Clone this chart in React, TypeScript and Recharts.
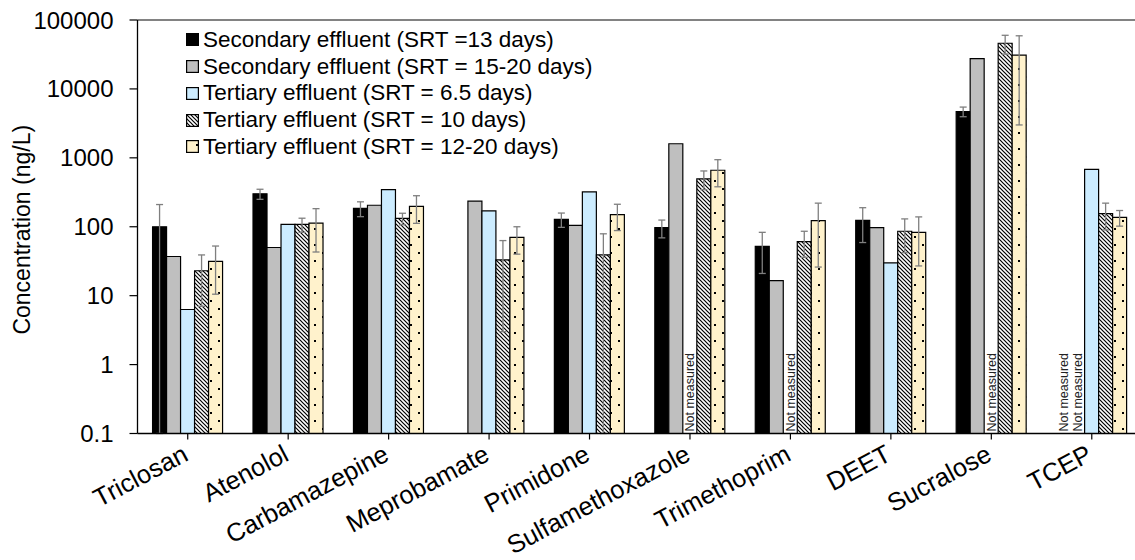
import React from 'react';
import { Bar, BarChart, ErrorBar, ReferenceLine, XAxis, YAxis } from 'recharts';

const categories = ['Triclosan', 'Atenolol', 'Carbamazepine', 'Meprobamate', 'Primidone', 'Sulfamethoxazole', 'Trimethoprim', 'DEET', 'Sucralose', 'TCEP'];

// concentrations (ng/L), null = no bar
const sec13 = [100, 300, 185, null, 128, 97, 52, 124, 4700, null];
const sec13Err = [110, 50, 45, null, 30, 28, 31, 65, 750, null];
const sec1520 = [37, 50, 205, 235, 105, 1600, 16.5, 97, 27500, null];
const ter65 = [6.3, 108, 345, 170, 320, null, null, 30, null, 680];
const ter10 = [23, 108, 132, 33, 39, 495, 61, 86, 46000, 155];
const ter10Err = [16, 25, 25, 30, 40, 150, 25, 44, 14000, 65];
const ter1220 = [31.5, 113, 197, 70, 150, 660, 123, 83, 31000, 137];
const ter1220Err = [21, 70, 85, 30, 62, 280, 97, 56, 28000, 35];

// where the bar is missing because it was not measured
const sec13Missing = ['TCEP'];
const sec1520Missing = ['TCEP'];
const ter65Missing = ['Sulfamethoxazole', 'Trimethoprim', 'Sucralose'];

const yTicks = [0.1, 1, 10, 100, 1000, 10000, 100000];

const FONT = '"Liberation Sans", Arial, sans-serif';
const CATEGORY_GAP = 0.15;

const seriesList = [
    { key: 'sec13', name: 'Secondary effluent (SRT =13 days)', values: sec13, errors: sec13Err, missing: sec13Missing, fill: '#000000' },
    { key: 'sec1520', name: 'Secondary effluent (SRT = 15-20 days)', values: sec1520, errors: null, missing: sec1520Missing, fill: '#BFBFBF' },
    { key: 'ter65', name: 'Tertiary effluent (SRT = 6.5 days)', values: ter65, errors: null, missing: ter65Missing, fill: '#CCECFF' },
    { key: 'ter10', name: 'Tertiary effluent (SRT = 10 days)', values: ter10, errors: ter10Err, missing: [], fill: 'url(#hatch)' },
    { key: 'ter1220', name: 'Tertiary effluent (SRT = 12-20 days)', values: ter1220, errors: ter1220Err, missing: [], fill: 'url(#dots)' },
];

const data = categories.map((name, i) => {
    const row: any = { name };
    seriesList.forEach(s => {
        const v = s.values[i];
        row[s.key] = v;
        const e = s.errors ? s.errors[i] : null;
        if (v != null && e != null) {
            // keep the lower end on the log axis
            row[s.key + 'Err'] = [Math.min(e, v - 0.1), e];
        }
    });
    return row;
});

// category label plus the "Not measured" notes standing in the empty bar slots
const CategoryTick = ({ x, y, payload }: any) => {
    const tx = x + 2;
    const ty = y + 18;
    const band = 2 * (payload.offset || 0);
    const barW = band * (1 - 2 * CATEGORY_GAP) / seriesList.length;
    const axisY = y - 8;
    return (
        <g>
            <text x={tx} y={ty} textAnchor="end" transform={`rotate(-28 ${tx} ${ty})`} fontSize={25.5} fontFamily={FONT} fill="#000">
                {payload.value}
            </text>
            {seriesList.map((s, slot) => {
                if (!s.missing.includes(payload.value)) return null;
                const cx = x + (slot - (seriesList.length - 1) / 2) * barW;
                const by = axisY - 2;
                return (
                    <text key={s.key} x={cx} y={by} dy="0.35em" transform={`rotate(-90 ${cx} ${by})`} fontSize={12.5} fontFamily={FONT} fill="#222">
                        Not measured
                    </text>
                );
            })}
        </g>
    );
};

const Legend = () => (
    <div style={{ position: 'absolute', left: 186, top: 26.5, fontFamily: FONT, fontSize: 22.5, color: '#000' }}>
        {seriesList.map(s => (
            <div key={s.key} style={{ display: 'flex', alignItems: 'center', height: 26.75, whiteSpace: 'nowrap' }}>
                <svg width={13} height={13} style={{ marginRight: 4, flexShrink: 0 }}>
                    <rect x={0.6} y={0.6} width={11.8} height={11.8} fill={s.fill} stroke="#000" strokeWidth={1.2} />
                </svg>
                <span>{s.name}</span>
            </div>
        ))}
    </div>
);

const App = () => {
    return (
        <div style={{ position: 'absolute', left: 0, top: 0, width: 1135, height: 560, overflow: 'hidden', background: '#fff' }}>
            <BarChart width={1150} height={560} data={data} margin={{ top: 20, right: 8, left: 0, bottom: 0 }}
                barCategoryGap={`${CATEGORY_GAP * 100}%`} barGap={0}>
                <defs>
                    <pattern id="hatch" patternUnits="userSpaceOnUse" width={4} height={4}>
                        <rect width={4} height={4} fill="#fff" />
                        <path d="M-1,-1 L5,5 M3,-1 L5,1 M-1,3 L1,5" stroke="#000" strokeWidth={1.2} />
                    </pattern>
                    <pattern id="dots" patternUnits="userSpaceOnUse" width={16} height={16}>
                        <rect width={16} height={16} fill="#FFF2CC" />
                        <rect x={10} y={4} width={2} height={2} fill="#000" />
                        <rect x={2} y={12} width={2} height={2} fill="#000" />
                    </pattern>
                </defs>
                <XAxis dataKey="name" type="category" height={126.5} interval={0} tick={<CategoryTick />}
                    tickSize={6} tickMargin={2} axisLine={{ stroke: '#000', strokeWidth: 1.3 }} tickLine={{ stroke: '#000', strokeWidth: 1.2 }} />
                <YAxis type="number" scale="log" domain={[0.1, 100000]} allowDataOverflow ticks={yTicks} width={137.5}
                    tickSize={8} tickMargin={16} tick={{ fontSize: 24, fontFamily: FONT, fill: '#000' }}
                    axisLine={{ stroke: '#000', strokeWidth: 1.3 }} tickLine={{ stroke: '#000', strokeWidth: 1.2 }}
                    label={({ viewBox }: any) => {
                        const lx = viewBox.x + 22;
                        const ly = viewBox.y + viewBox.height / 2 + 3;
                        return (
                            <text x={lx} y={ly} textAnchor="middle" dy="0.35em" transform={`rotate(-90 ${lx} ${ly})`} fontSize={23} fontFamily={FONT} fill="#000">
                                Concentration (ng/L)
                            </text>
                        );
                    }} />
                <ReferenceLine y={100000} stroke="#595959" strokeWidth={1.3} />
                {seriesList.map(s => (
                    <Bar key={s.key} dataKey={s.key} name={s.name} fill={s.fill} stroke="#000" strokeWidth={1.2} isAnimationActive={false}>
                        {s.errors && <ErrorBar dataKey={s.key + 'Err'} width={3.5} stroke="#7F7F7F" strokeWidth={1.3} direction="y" />}
                    </Bar>
                ))}
            </BarChart>
            <Legend />
        </div>
    );
};

export default App;
